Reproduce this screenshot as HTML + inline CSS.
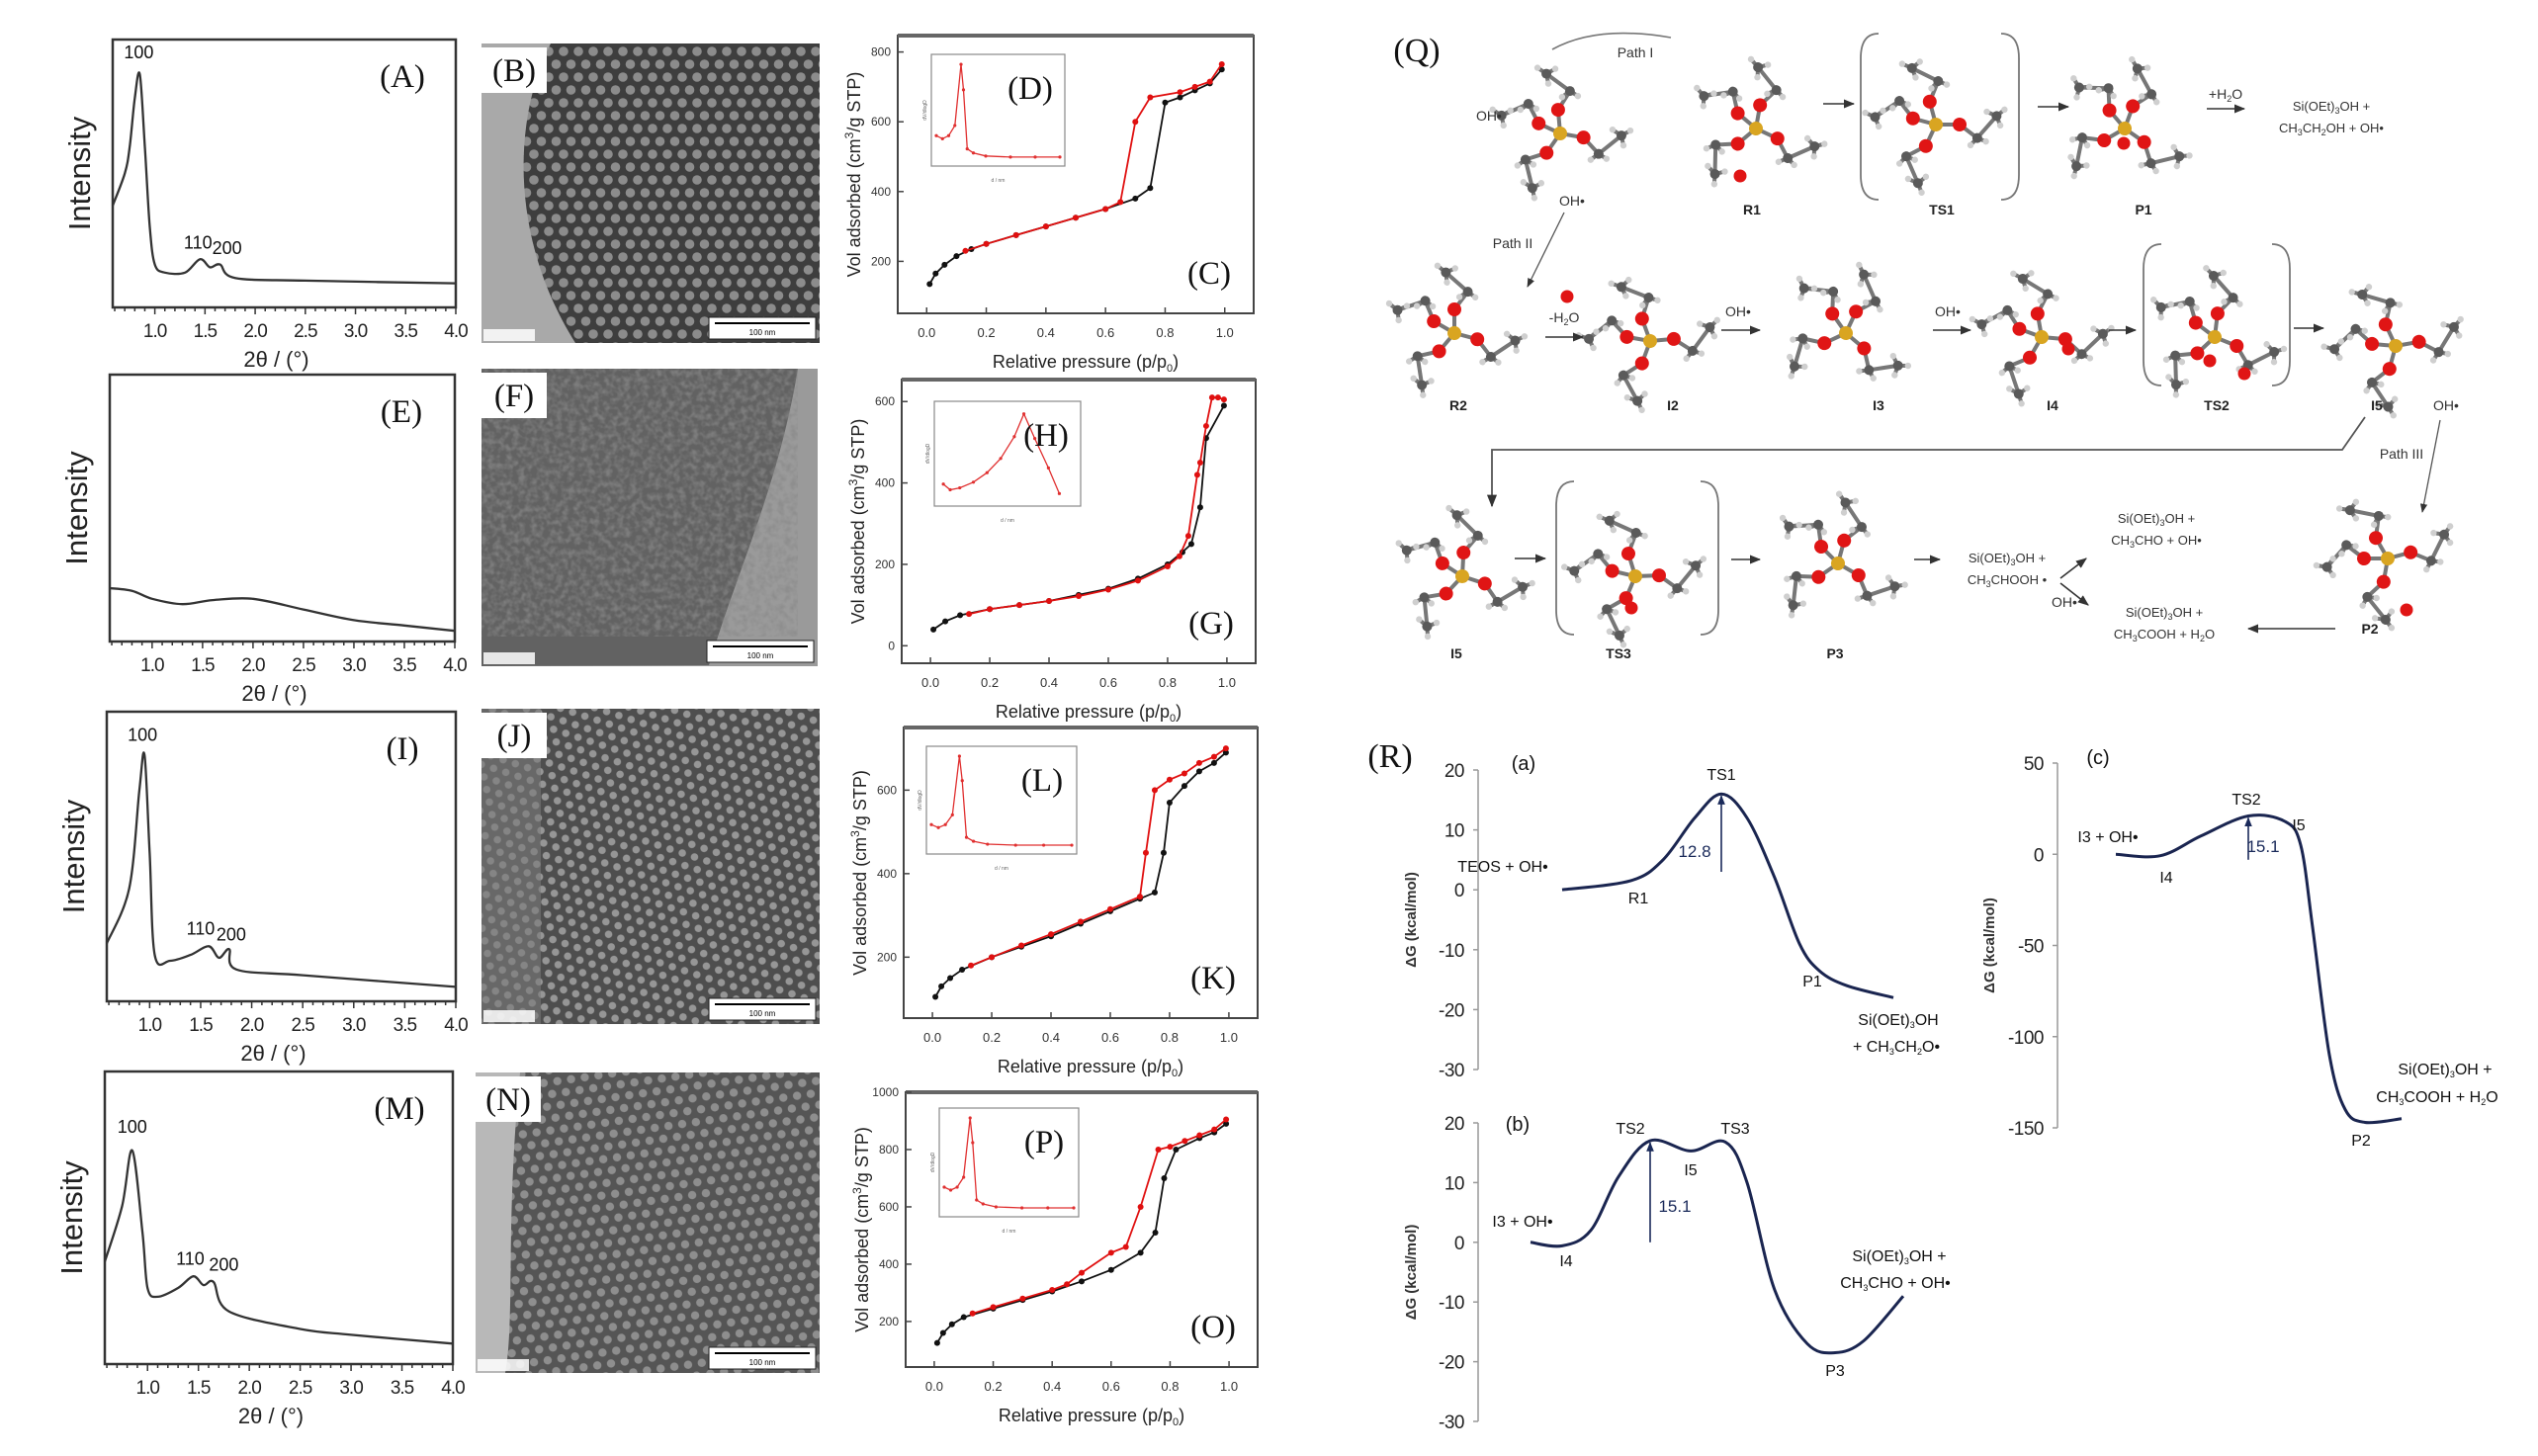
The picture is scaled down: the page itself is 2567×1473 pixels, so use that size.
<!DOCTYPE html>
<html><head><meta charset="utf-8">
<style>
html,body{margin:0;padding:0;background:#fff;}
svg{display:block;}
text{font-family:"Liberation Sans",sans-serif;}
.tm{font-family:"Liberation Serif",serif;}
</style></head>
<body>
<svg id="fig" xmlns="http://www.w3.org/2000/svg" width="2567" height="1473" viewBox="0 0 2567 1473">
<defs>
<pattern id="hexA" patternUnits="userSpaceOnUse" width="15" height="26">
<rect width="15" height="26" fill="#3e3e3e"/>
<circle cx="0" cy="0" r="4.8" fill="#8c8c8c"/><circle cx="15" cy="0" r="4.8" fill="#8c8c8c"/>
<circle cx="0" cy="26" r="4.8" fill="#8c8c8c"/><circle cx="15" cy="26" r="4.8" fill="#8c8c8c"/>
<circle cx="7.5" cy="13" r="4.8" fill="#8c8c8c"/>
</pattern>
<pattern id="hexJ" patternUnits="userSpaceOnUse" width="13" height="22.5" patternTransform="rotate(18)">
<rect width="13" height="22.5" fill="#4e4e4e"/>
<circle cx="0" cy="0" r="3.8" fill="#969696"/><circle cx="13" cy="0" r="3.8" fill="#969696"/>
<circle cx="0" cy="22.5" r="3.8" fill="#969696"/><circle cx="13" cy="22.5" r="3.8" fill="#969696"/>
<circle cx="6.5" cy="11.25" r="3.8" fill="#969696"/>
</pattern>
<pattern id="hexN" patternUnits="userSpaceOnUse" width="14" height="24.2" patternTransform="rotate(-8)">
<rect width="14" height="24.2" fill="#555"/>
<circle cx="0" cy="0" r="4.2" fill="#8e8e8e"/><circle cx="14" cy="0" r="4.2" fill="#8e8e8e"/>
<circle cx="0" cy="24.2" r="4.2" fill="#8e8e8e"/><circle cx="14" cy="24.2" r="4.2" fill="#8e8e8e"/>
<circle cx="7" cy="12.1" r="4.2" fill="#8e8e8e"/>
</pattern>
<filter id="noise" x="0" y="0" width="100%" height="100%">
<feTurbulence type="fractalNoise" baseFrequency="0.16" numOctaves="2" seed="3"/>
<feColorMatrix type="matrix" values="0 0 0 0 0.25  0 0 0 0 0.25  0 0 0 0 0.25  0 0 0 -2.4 1.5"/>
</filter>
<marker id="ah" viewBox="0 0 10 10" refX="9" refY="5" markerWidth="7" markerHeight="7" orient="auto"><path d="M0,1 L10,5 L0,9 z" fill="#333"/></marker>
<marker id="ahb" viewBox="0 0 10 10" refX="9" refY="5" markerWidth="6" markerHeight="6" orient="auto"><path d="M0,1 L10,5 L0,9 z" fill="#1a2a5a"/></marker>
</defs>
</svg>
<script>
// ================= DATA =================
const xrdA_x=[0.58,0.7,0.75,0.8,0.85,0.9,0.95,1.0,1.1,1.3,1.45,1.55,1.65,1.8,2.5,4.0];
const xrdA_y=[38,50,60,78,87,60,30,16,13,13,18,15,16,11,10,9];
const xrdE_x=[0.58,0.8,1.0,1.3,1.6,2.0,2.5,3.0,3.5,4.0];
const xrdE_y=[20,19,16,14,15.5,16,12,8,6,4];
const xrdI_x=[0.58,0.8,0.9,0.95,1.0,1.05,1.2,1.4,1.58,1.68,1.78,1.85,2.5,4.0];
const xrdI_y=[20,39,73,85,51,16,14,16,19,15,18,11,9,5];
const xrdM_x=[0.58,0.75,0.85,0.95,1.0,1.1,1.3,1.45,1.55,1.65,1.8,2.5,3.0,4.0];
const xrdM_y=[35,54,73,45,26,23,26,30,27,28,18,12,10,7];
const xrdTicks=[1.0,1.5,2.0,2.5,3.0,3.5,4.0];
const xrdTickLabels=["1.0","1.5","2.0","2.5","3.0","3.5","4.0"];
const isoC_adsX=[0.01,0.03,0.06,0.1,0.15,0.2,0.3,0.4,0.5,0.6,0.7,0.75,0.8,0.85,0.9,0.95,0.99];
const isoC_adsY=[135,165,190,215,235,250,275,300,325,350,380,410,655,670,690,710,750];
const isoC_desX=[0.99,0.95,0.9,0.85,0.75,0.7,0.65,0.6,0.5,0.4,0.3,0.2,0.13];
const isoC_desY=[765,715,700,685,670,600,370,350,325,300,275,250,230];
const isoC_ticks=[200,400,600,800];
const isoG_adsX=[0.01,0.05,0.1,0.2,0.3,0.4,0.5,0.6,0.7,0.8,0.85,0.88,0.91,0.93,0.99];
const isoG_adsY=[40,60,75,90,100,110,125,140,165,200,230,250,340,510,590];
const isoG_desX=[0.99,0.97,0.95,0.93,0.91,0.9,0.87,0.84,0.8,0.7,0.6,0.5,0.4,0.3,0.2,0.13];
const isoG_desY=[605,610,610,540,450,420,270,220,195,160,138,122,110,100,90,78];
const isoG_ticks=[0,200,400,600];
const isoK_adsX=[0.01,0.03,0.06,0.1,0.2,0.3,0.4,0.5,0.6,0.7,0.75,0.78,0.8,0.85,0.9,0.95,0.99];
const isoK_adsY=[105,130,150,170,200,225,250,280,310,340,355,450,570,610,645,665,690];
const isoK_desX=[0.99,0.95,0.9,0.85,0.8,0.75,0.72,0.7,0.6,0.5,0.4,0.3,0.2,0.13];
const isoK_desY=[700,680,665,640,625,600,450,345,315,285,255,228,200,180];
const isoK_ticks=[200,400,600];
const isoO_adsX=[0.01,0.03,0.06,0.1,0.2,0.3,0.4,0.5,0.6,0.7,0.75,0.78,0.82,0.9,0.95,0.99];
const isoO_adsY=[125,160,190,215,245,275,305,340,380,440,510,700,800,840,860,890];
const isoO_desX=[0.99,0.95,0.9,0.85,0.8,0.76,0.7,0.65,0.6,0.5,0.45,0.4,0.3,0.2,0.13];
const isoO_desY=[905,870,850,830,810,800,600,460,440,370,330,310,280,250,228];
const isoO_ticks=[200,400,600,800,1000];
const isoXTicks=[0,0.2,0.4,0.6,0.8,1.0];
const isoXTickLabels=["0.0","0.2","0.4","0.6","0.8","1.0"];
const psdSharp_x=[0,0.05,0.1,0.15,0.2,0.22,0.25,0.3,0.4,0.6,0.8,1.0];
const psdSharp_y=[0.25,0.22,0.25,0.35,0.95,0.7,0.12,0.08,0.05,0.04,0.04,0.04];
const psdH_x=[0.03,0.08,0.15,0.25,0.35,0.45,0.55,0.62,0.7,0.8,0.88];
const psdH_y=[0.18,0.12,0.14,0.2,0.3,0.45,0.68,0.92,0.66,0.35,0.08];
const ea_rc=[85,154,187,219,246,272,300,325,345,373,420];
const ea_G=[0,1.5,5,12,16,12,2,-9,-13.5,-16,-18];
const eb_rc=[53,85,114,142,174,215,250,272,300,333,361,390,430];
const eb_G=[0,-0.6,2,11,17,15.3,16.8,10,-8,-17,-18.5,-16.5,-9];
const ec_rc=[59,104,145,193,230,246,258,275,291,311,348];
const ec_G=[0,-0.8,10,21,18,5,-40,-110,-140,-147,-145];
const eab_ticks=[20,10,0,-10,-20,-30];
const ec_ticks=[50,0,-50,-100,-150];

// ================= HELPERS =================
const NS='http://www.w3.org/2000/svg';
const svg=document.getElementById('fig');
function mk(tag,attrs,name,parent){
  const e=document.createElementNS(NS,tag);
  for(const k in attrs) e.setAttribute(k,attrs[k]);
  
  
  (parent||svg).appendChild(e);
  return e;
}
function txt(x,y,s,attrs,name,parent){
  const t=mk('text',Object.assign({x:x,y:y},attrs||{}),name,parent);
  t.innerHTML=s;
  return t;
}
function grp(name){return mk('g',{},name);}
function smoothPath(pts){
  let d='M'+pts[0][0].toFixed(1)+','+pts[0][1].toFixed(1);
  for(let i=0;i<pts.length-1;i++){
    const p0=pts[i-1]||pts[i],p1=pts[i],p2=pts[i+1],p3=pts[i+2]||p2;
    const c1=[p1[0]+(p2[0]-p0[0])/6,p1[1]+(p2[1]-p0[1])/6];
    const c2=[p2[0]-(p3[0]-p1[0])/6,p2[1]-(p3[1]-p1[1])/6];
    d+=' C'+c1[0].toFixed(1)+','+c1[1].toFixed(1)+' '+c2[0].toFixed(1)+','+c2[1].toFixed(1)+' '+p2[0].toFixed(1)+','+p2[1].toFixed(1);
  }
  return d;
}
function linPath(pts){return pts.map((p,i)=>(i?'L':'M')+p[0].toFixed(1)+','+p[1].toFixed(1)).join(' ');}

// ================= XRD =================
function xrd(F,xs,ys,letter,peaks,nm){
  const g=grp('xrd-panel-'+nm);
  const sx=v=>F.x0+(v-0.58)/(4.0-0.58)*(F.x1-F.x0);
  const sy=v=>F.y1-v/100*(F.y1-F.y0);
  mk('rect',{x:F.x0,y:F.y0,width:F.x1-F.x0,height:F.y1-F.y0,fill:'none',stroke:'#333','stroke-width':2.5},'plot-frame',g);
  for(let v=0.6;v<=4.001;v+=0.1){const big=Math.abs(v*2-Math.round(v*2))<0.01;
    mk('line',{x1:sx(v),x2:sx(v),y1:F.y1,y2:F.y1+(big?7:4),stroke:'#333','stroke-width':1.5},'x-tick',g);}
  xrdTicks.forEach((v,i)=>txt(sx(v),F.y1+30,xrdTickLabels[i],{'font-size':19,'text-anchor':'middle',fill:'#222','letter-spacing':'-1'},'x-tick-label',g));
  txt((F.x0+F.x1)/2-8,F.y1+60,'2θ / (°)',{'font-size':22,'text-anchor':'middle',fill:'#222'},'x-axis-title',g);
  txt(0,0,'Intensity',{'font-size':31,'text-anchor':'middle',fill:'#222',transform:'translate('+(F.x0-23)+','+((F.y0+F.y1)/2)+') rotate(-90)'},'y-axis-title',g);
  const pts=xs.map((v,i)=>[sx(v),sy(ys[i])]);
  mk('path',{d:smoothPath(pts),fill:'none',stroke:'#333','stroke-width':2.3},'xrd-curve',g);
  peaks.forEach(p=>txt(sx(p[0]),sy(p[1]),p[2],{'font-size':18,'text-anchor':'middle',fill:'#111'},'peak-label',g));
  txt(F.x1-54,F.y0+48,letter,{'font-size':33,'text-anchor':'middle',class:'tm',fill:'#111'},'panel-label',g);
}
xrd({x0:114,y0:40,x1:461,y1:311},xrdA_x,xrdA_y,'(A)',[[0.84,93,'100'],[1.43,22,'110'],[1.72,20,'200']],'a');
xrd({x0:111,y0:379,x1:460,y1:649},xrdE_x,xrdE_y,'(E)',[],'e');
xrd({x0:108,y0:720,x1:461,y1:1013},xrdI_x,xrdI_y,'(I)',[[0.93,90,'100'],[1.5,23,'110'],[1.8,21,'200']],'i');
xrd({x0:106,y0:1084,x1:458,y1:1380},xrdM_x,xrdM_y,'(M)',[[0.85,79,'100'],[1.42,34,'110'],[1.75,32,'200']],'m');

// ================= TEM =================
function tem(X,nm,letter,kind){
  const g=grp('tem-image-'+nm);
  const cid='clip'+nm;
  const cp=mk('clipPath',{id:cid},'clip',g);
  mk('rect',{x:X.x0,y:X.y0,width:X.x1-X.x0,height:X.y1-X.y0},'clip-rect',cp);
  const gi=mk('g',{'clip-path':'url(#'+cid+')'},'tem-content',g);
  const w=X.x1-X.x0,h=X.y1-X.y0;
  if(kind==='B'){
    mk('rect',{x:X.x0,y:X.y0,width:w,height:h,fill:'#a9a9a9'},'tem-background',gi);
    mk('path',{d:'M'+(X.x0+70)+','+X.y0+' C'+(X.x0+30)+','+(X.y0+80)+' '+(X.x0+30)+','+(X.y0+200)+' '+(X.x0+95)+','+X.y1+' L'+X.x1+','+X.y1+' L'+X.x1+','+X.y0+' Z',fill:'url(#hexA)'},'mesopore-lattice',gi);
  } else if(kind==='F'){
    mk('rect',{x:X.x0,y:X.y0,width:w,height:h,fill:'#9a9a9a'},'tem-background',gi);
    mk('path',{d:'M'+X.x0+','+X.y0+' L'+(X.x1-20)+','+X.y0+' C'+(X.x1-40)+','+(X.y0+120)+' '+(X.x1-80)+','+(X.y0+200)+' '+(X.x0+230)+','+(X.y0+300)+' L'+X.x0+','+X.y1+' Z',fill:'#626262'},'particle-region',gi);
    mk('rect',{x:X.x0,y:X.y0,width:w-20,height:h-30,fill:'#000',filter:'url(#noise)',opacity:0.7},'wormhole-texture',gi);
  } else if(kind==='J'){
    mk('rect',{x:X.x0,y:X.y0,width:w,height:h,fill:'url(#hexJ)'},'mesopore-lattice',gi);
    mk('rect',{x:X.x0,y:X.y0,width:60,height:h,fill:'#7a7a7a',opacity:0.6},'edge-region',gi);
  } else {
    mk('rect',{x:X.x0,y:X.y0,width:w,height:h,fill:'url(#hexN)'},'mesopore-lattice',gi);
    mk('path',{d:'M'+X.x0+','+X.y0+' L'+(X.x0+45)+','+X.y0+' C'+(X.x0+30)+','+(X.y0+150)+' '+(X.x0+40)+','+(X.y0+250)+' '+(X.x0+30)+','+X.y1+' L'+X.x0+','+X.y1+' Z',fill:'#b8b8b8'},'edge-region',gi);
  }
  mk('rect',{x:X.x1-112,y:X.y1-26,width:108,height:22,fill:'#fff',stroke:'#222','stroke-width':1},'scale-bar-box',g);
  mk('line',{x1:X.x1-106,x2:X.x1-10,y1:X.y1-20,y2:X.y1-20,stroke:'#000','stroke-width':2},'scale-bar',g);
  txt(X.x1-58,X.y1-8,'100 nm',{'font-size':8,'text-anchor':'middle',fill:'#000'},'scale-bar-label',g);
  mk('rect',{x:X.x0+2,y:X.y1-14,width:52,height:12,fill:'#fff',opacity:0.85},'info-box',g);
  mk('rect',{x:X.x0,y:X.y0+4,width:66,height:46,fill:'#fff'},'label-box',g);
  txt(X.x0+33,X.y0+38,letter,{'font-size':33,'text-anchor':'middle',class:'tm',fill:'#111'},'panel-label',g);
}
tem({x0:487,y0:44,x1:829,y1:347},'b','(B)','B');
tem({x0:487,y0:373,x1:827,y1:674},'f','(F)','F');
tem({x0:487,y0:717,x1:829,y1:1036},'j','(J)','J');
tem({x0:481,y0:1085,x1:829,y1:1389},'n','(N)','N');

// ================= ISOTHERMS =================
function iso(F,yr,ticks,ax,ay,dx,dy,letter,inset,psx,psy,insetLetter,nm){
  const g=grp('isotherm-panel-'+nm);
  const sx=v=>F.x0+(v+0.097)/1.194*(F.x1-F.x0);
  const sy=v=>F.y1-(v-yr[0])/(yr[1]-yr[0])*(F.y1-F.y0);
  mk('rect',{x:F.x0,y:F.y0,width:F.x1-F.x0,height:F.y1-F.y0,fill:'none',stroke:'#444','stroke-width':2},'plot-frame',g);
  mk('line',{x1:F.x0,x2:F.x1,y1:F.y0,y2:F.y0,stroke:'#666','stroke-width':4},'frame-top',g);
  ticks.forEach(v=>{mk('line',{x1:F.x0,x2:F.x0+6,y1:sy(v),y2:sy(v),stroke:'#444','stroke-width':1.5},'y-tick',g);
    txt(F.x0-7,sy(v)+4,String(v),{'font-size':12,'text-anchor':'end',fill:'#333'},'y-tick-label',g);});
  isoXTicks.forEach((v,i)=>{mk('line',{x1:sx(v),x2:sx(v),y1:F.y1,y2:F.y1-6,stroke:'#444','stroke-width':1.5},'x-tick',g);
    txt(sx(v),F.y1+24,isoXTickLabels[i],{'font-size':13,'text-anchor':'middle',fill:'#333'},'x-tick-label',g);});
  txt((F.x0+F.x1)/2+10,F.y1+55,'Relative pressure (p/p<tspan font-size="11" dy="4">0</tspan><tspan dy="-4">)</tspan>',{'font-size':18,'text-anchor':'middle',fill:'#222'},'x-axis-title',g);
  txt(0,0,'Vol adsorbed (cm<tspan font-size="12" dy="-7">3</tspan><tspan dy="7">/g STP)</tspan>',{'font-size':18,'text-anchor':'middle',fill:'#222',transform:'translate('+(F.x0-38)+','+((F.y0+F.y1)/2)+') rotate(-90)'},'y-axis-title',g);
  const pa=ax.map((v,i)=>[sx(v),sy(ay[i])]);
  const pd=dx.map((v,i)=>[sx(v),sy(dy[i])]);
  mk('path',{d:linPath(pa),fill:'none',stroke:'#111','stroke-width':1.8},'adsorption-line',g);
  pa.forEach(p=>mk('circle',{cx:p[0],cy:p[1],r:3,fill:'#111'},'adsorption-point',g));
  mk('path',{d:linPath(pd),fill:'none',stroke:'#e01010','stroke-width':1.8},'desorption-line',g);
  pd.forEach(p=>mk('circle',{cx:p[0],cy:p[1],r:3,fill:'#e01010'},'desorption-point',g));
  txt(F.x1-45,F.y1-30,letter,{'font-size':33,'text-anchor':'middle',class:'tm',fill:'#111'},'panel-label',g);
  const I=inset;
  mk('rect',{x:I.x0,y:I.y0,width:I.x1-I.x0,height:I.y1-I.y0,fill:'#fff',stroke:'#888','stroke-width':1.2},'inset-frame',g);
  const ix=v=>I.x0+5+v*(I.x1-I.x0-10), iy=v=>I.y1-5-v*(I.y1-I.y0-10);
  const pi=psx.map((v,i)=>[ix(v),iy(psy[i])]);
  mk('path',{d:linPath(pi),fill:'none',stroke:'#e03030','stroke-width':1.3},'psd-curve',g);
  pi.forEach(p=>mk('circle',{cx:p[0],cy:p[1],r:1.6,fill:'#e03030'},'psd-point',g));
  txt(0,0,'dV/dlogD',{'font-size':5,'text-anchor':'middle',fill:'#666',transform:'translate('+(I.x0-5)+','+((I.y0+I.y1)/2)+') rotate(-90)'},'inset-y-title',g);
  txt((I.x0+I.x1)/2,I.y1+16,'d / nm',{'font-size':5,'text-anchor':'middle',fill:'#666'},'inset-x-title',g);
  txt(I.x1-35,I.y0+45,insetLetter,{'font-size':33,'text-anchor':'middle',class:'tm',fill:'#111'},'inset-label',g);
}
iso({x0:908,y0:36,x1:1268,y1:317},[51,847],isoC_ticks,isoC_adsX,isoC_adsY,isoC_desX,isoC_desY,'(C)',{x0:942,y0:55,x1:1077,y1:168},psdSharp_x,psdSharp_y,'(D)','c');
iso({x0:912,y0:384,x1:1270,y1:671},[-43,654],isoG_ticks,isoG_adsX,isoG_adsY,isoG_desX,isoG_desY,'(G)',{x0:945,y0:406,x1:1093,y1:512},psdH_x,psdH_y,'(H)','g');
iso({x0:914,y0:736,x1:1272,y1:1030},[54,750],isoK_ticks,isoK_adsX,isoK_adsY,isoK_desX,isoK_desY,'(K)',{x0:937,y0:755,x1:1089,y1:864},psdSharp_x,psdSharp_y,'(L)','k');
iso({x0:916,y0:1105,x1:1272,y1:1383},[41,1000],isoO_ticks,isoO_adsX,isoO_adsY,isoO_desX,isoO_desY,'(O)',{x0:950,y0:1121,x1:1091,y1:1231},psdSharp_x,psdSharp_y,'(P)','o');

// ================= MOLECULES (Q) =================
const gq=grp('reaction-scheme-q');
txt(1433,62,'(Q)',{'font-size':34,class:'tm','text-anchor':'middle',fill:'#111'},'panel-label',gq);
function mol(cx,cy,rot,nm){
  const g=mk('g',{transform:'translate('+cx+','+cy+') rotate('+rot+')'},'molecule-'+nm,gq);
  const arms=[-95,10,125,205];
  const atoms=[],bonds=[];
  atoms.push([0,0,'Si']);
  arms.forEach((a,k)=>{
    const r=Math.PI/180;
    const o=[24*Math.cos(a*r),24*Math.sin(a*r)];
    const c1=[44*Math.cos((a+18)*r),44*Math.sin((a+18)*r)];
    const c2=[62*Math.cos((a-8)*r),62*Math.sin((a-8)*r)];
    bonds.push([[0,0],o],[o,c1],[c1,c2]);
    atoms.push([o[0],o[1],'O'],[c1[0],c1[1],'C'],[c2[0],c2[1],'C']);
    [[-9,-6],[9,-5],[2,10]].forEach(h=>{bonds.push([c2,[c2[0]+h[0],c2[1]+h[1]]]);atoms.push([c2[0]+h[0],c2[1]+h[1],'H']);});
    [[-8,6],[8,5]].forEach(h=>{bonds.push([c1,[c1[0]+h[0],c1[1]+h[1]]]);atoms.push([c1[0]+h[0],c1[1]+h[1],'H']);});
  });
  bonds.forEach(b=>mk('line',{x1:b[0][0],y1:b[0][1],x2:b[1][0],y2:b[1][1],stroke:'#777','stroke-width':4},'bond',g));
  const col={Si:'#d9a521',O:'#e01515',C:'#5a5a5a',H:'#cfcfcf'},rad={Si:7,O:7,C:5,H:3.2};
  atoms.forEach(a=>mk('circle',{cx:a[0],cy:a[1],r:rad[a[2]],fill:col[a[2]]},'atom',g));
}
mol(1578,135,0,'teos');mol(1776,130,15,'r1');mol(1958,126,-10,'ts1');mol(2149,130,25,'p1');
mol(1471,337,5,'r2');mol(1669,345,-15,'i2');mol(1867,337,30,'i3');mol(2065,341,-5,'i4');mol(2240,341,12,'ts2');mol(2423,350,-20,'i5');
mol(1479,583,8,'i5b');mol(1654,583,-12,'ts3');mol(1859,570,20,'p3');mol(2415,565,-25,'p2');
[[1760,178],[1585,300],[2270,378],[2235,365],[1650,615],[2434,617],[2092,353],[2148,145]].forEach(p=>mk('circle',{cx:p[0],cy:p[1],r:6.5,fill:'#e01515'},'hydroxyl-radical',gq));
function bracket(x0,y0,x1,y1,nm){
  mk('path',{d:'M'+(x0+18)+','+y0+' Q'+x0+','+y0+' '+x0+','+(y0+25)+' L'+x0+','+(y1-25)+' Q'+x0+','+y1+' '+(x0+18)+','+y1,fill:'none',stroke:'#777','stroke-width':1.8},'bracket-left-'+nm,gq);
  mk('path',{d:'M'+(x1-18)+','+y0+' Q'+x1+','+y0+' '+x1+','+(y0+25)+' L'+x1+','+(y1-25)+' Q'+x1+','+y1+' '+(x1-18)+','+y1,fill:'none',stroke:'#777','stroke-width':1.8},'bracket-right-'+nm,gq);
}
bracket(1882,34,2042,202,'ts1');bracket(2168,247,2316,390,'ts2');bracket(1574,487,1738,642,'ts3');
function arr(x1,y1,x2,y2,nm){mk('line',{x1:x1,y1:y1,x2:x2,y2:y2,stroke:'#333','stroke-width':1.6,'marker-end':'url(#ah)'},nm,gq);}
[[1844,105,1875,105],[2061,108,2092,108],[1563,341,1601,341],[1741,334,1780,334],[1955,334,1993,334],[2133,334,2160,334],[2320,332,2350,332],[1532,565,1563,565],[1751,566,1780,566],[1936,566,1962,566],[2232,110,2270,110],[2362,636,2274,636]].forEach(a=>arr(a[0],a[1],a[2],a[3],'reaction-arrow'));
arr(2084,585,2110,565,'branch-arrow');arr(2084,590,2112,612,'branch-arrow');
mk('path',{d:'M1570,50 Q1615,25 1690,38',fill:'none',stroke:'#777','stroke-width':1.6},'path-i-arc',gq);
mk('path',{d:'M2392,422 L2369,455 L1509,455 L1509,512',fill:'none',stroke:'#555','stroke-width':1.8,'marker-end':'url(#ah)'},'connector-line',gq);
mk('line',{x1:1582,y1:215,x2:1545,y2:290,stroke:'#555','stroke-width':1.3,'marker-end':'url(#ah)'},'path-ii-arrow',gq);
mk('line',{x1:2468,y1:425,x2:2450,y2:518,stroke:'#555','stroke-width':1.3,'marker-end':'url(#ah)'},'path-iii-arrow',gq);
const sq={'font-size':14,fill:'#333','text-anchor':'middle'};
const sqb={'font-size':14,fill:'#222','text-anchor':'middle','font-weight':'bold'};
[['R1',1772,217],['TS1',1964,217],['P1',2168,217],['R2',1475,415],['I2',1692,415],['I3',1900,415],['I4',2076,415],['TS2',2242,415],['I5',2404,415],['I5',1473,666],['TS3',1637,666],['P3',1856,666],['P2',2397,641]].forEach(l=>txt(l[1],l[2],l[0],sqb,'species-label',gq));
[['Path I',1654,58],['Path II',1530,251],['Path III',2429,464]].forEach(l=>txt(l[1],l[2],l[0],sq,'path-label',gq));
[['OH•',1506,122],['OH•',1590,208],['OH•',1758,320],['OH•',1970,320],['OH•',2474,415],['OH•',2088,614]].forEach(l=>txt(l[1],l[2],l[0],sq,'oh-radical-label',gq));
txt(1582,326,'-H<tspan font-size="9" dy="3">2</tspan><tspan dy="-3">O</tspan>',sq,'minus-water-label',gq);
txt(2251,100,'+H<tspan font-size="9" dy="3">2</tspan><tspan dy="-3">O</tspan>',sq,'plus-water-label',gq);
function two(x,y,a,b,nm){txt(x,y,a,{'font-size':13,fill:'#333','text-anchor':'middle'},nm+'-line1',gq);txt(x,y+22,b,{'font-size':13,fill:'#333','text-anchor':'middle'},nm+'-line2',gq);}
const sub=n=>'<tspan font-size="9" dy="3">'+n+'</tspan><tspan dy="-3">';
two(2358,112,'Si(OEt)'+sub(3)+'OH +</tspan>','CH'+sub(3)+'CH</tspan>'+sub(2)+'OH + OH•</tspan>','product-p1');
two(2030,569,'Si(OEt)'+sub(3)+'OH +</tspan>','CH'+sub(3)+'CHOOH •</tspan>','product-p3');
two(2181,529,'Si(OEt)'+sub(3)+'OH +</tspan>','CH'+sub(3)+'CHO + OH•</tspan>','product-aldehyde');
two(2189,624,'Si(OEt)'+sub(3)+'OH +</tspan>','CH'+sub(3)+'COOH + H</tspan>'+sub(2)+'O</tspan>','product-acid');

// ================= ENERGY PROFILES (R) =================
txt(1406,776,'(R)',{'font-size':34,class:'tm','text-anchor':'middle',fill:'#111'},'panel-label-r',svg);
function profile(ax,y0val,y0px,ppu,ticks,rc,G,nm,yLabelX,arrowInfo,labels,letterPos){
  const g=grp('energy-profile-'+nm);
  const sx=v=>ax+v, sy=v=>y0px+(y0val-v)*ppu;
  mk('line',{x1:ax,x2:ax,y1:sy(ticks[0]),y2:sy(ticks[ticks.length-1]),stroke:'#999','stroke-width':1.5},'y-axis-line',g);
  ticks.forEach(v=>{mk('line',{x1:ax-5,x2:ax,y1:sy(v),y2:sy(v),stroke:'#999','stroke-width':1.5},'y-tick',g);
    txt(ax-14,sy(v)+7,String(v),{'font-size':19,'text-anchor':'end',fill:'#222','letter-spacing':'-0.5'},'y-tick-label',g);});
  txt(0,0,'ΔG (kcal/mol)',{'font-size':15,'font-weight':'bold','text-anchor':'middle',fill:'#333',transform:'translate('+yLabelX+','+((sy(ticks[0])+sy(ticks[ticks.length-1]))/2)+') rotate(-90)'},'y-axis-title',g);
  const pts=rc.map((v,i)=>[sx(v),sy(G[i])]);
  mk('path',{d:smoothPath(pts),fill:'none',stroke:'#1a2550','stroke-width':3},'energy-curve',g);
  mk('line',{x1:sx(arrowInfo[0]),x2:sx(arrowInfo[0]),y1:sy(arrowInfo[1]),y2:sy(arrowInfo[2])+2,stroke:'#1a2a5a','stroke-width':1.6,'marker-end':'url(#ahb)'},'barrier-arrow',g);
  txt(letterPos[0],letterPos[1],letterPos[2],{'font-size':20,'text-anchor':'middle',fill:'#111'},'subplot-label',g);
  labels.forEach(l=>txt(l[1],l[2],l[0],{'font-size':l[3]||16,'text-anchor':'middle',fill:l[4]||'#111'},'profile-label',g));
}
profile(1495,20,779,6.06,eab_ticks,ea_rc,ea_G,'a',1432,[246,3,16],
 [['TEOS + OH•',1520,882],['R1',1657,914],['TS1',1741,789],['12.8',1714,867,17,'#1a2a5a'],['P1',1833,998],
  ['Si(OEt)'+sub(3)+'OH</tspan>',1920,1037],['+ CH'+sub(3)+'CH</tspan>'+sub(2)+'O•</tspan>',1918,1064]],[1541,779,'(a)']);
profile(1495,20,1136,6.04,eab_ticks,eb_rc,eb_G,'b',1432,[174,0,17],
 [['TS2',1649,1147],['TS3',1755,1147],['I5',1710,1189],['15.1',1694,1226,17,'#1a2a5a'],['I3 + OH•',1540,1241],['I4',1584,1281],
  ['Si(OEt)'+sub(3)+'OH +</tspan>',1921,1276],['CH'+sub(3)+'CHO + OH•</tspan>',1917,1303],['P3',1856,1392]],[1535,1144,'(b)']);
profile(2081,50,772,1.845,ec_ticks,ec_rc,ec_G,'c',2017,[193,-3,21],
 [['TS2',2272,814],['I5',2325,840],['I3 + OH•',2132,852],['I4',2191,893],['15.1',2289,862,17,'#1a2a5a'],
  ['Si(OEt)'+sub(3)+'OH +</tspan>',2473,1087],['CH'+sub(3)+'COOH + H</tspan>'+sub(2)+'O</tspan>',2465,1115],['P2',2388,1159]],[2122,773,'(c)']);
</script>
</body></html>
